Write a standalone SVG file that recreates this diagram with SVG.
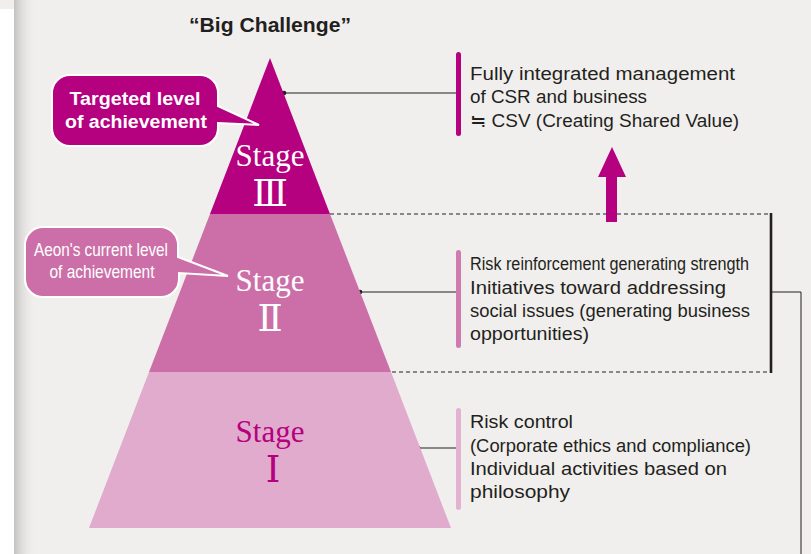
<svg xmlns="http://www.w3.org/2000/svg" width="811" height="554" viewBox="0 0 811 554">
<defs>
<linearGradient id="shadow" x1="0" y1="0" x2="1" y2="0">
<stop offset="0" stop-color="#c4c2c0"/>
<stop offset="1" stop-color="#f1efed" stop-opacity="0"/>
</linearGradient>
<style>
.sans{font-family:"Liberation Sans",Arial,sans-serif;fill:#231f20;}
.txt{font-size:17.5px;}
.cond{font-size:17.5px;}
.serif{font-family:"Liberation Serif","Times New Roman",serif;font-size:31px;text-anchor:middle;}
.num{font-family:"DejaVu Serif","Liberation Serif",serif;font-size:37px;text-anchor:middle;}
.lead{stroke:#231f20;stroke-width:1;fill:none;}
.dash{stroke:#231f20;stroke-width:1;stroke-dasharray:4 3;fill:none;}
.dot{fill:#231f20;}
.callt{font-family:"Liberation Sans",Arial,sans-serif;fill:#fff;text-anchor:middle;}
</style>
</defs>
<rect width="811" height="554" fill="#f1efed"/>
<rect x="14" y="0" width="22" height="554" fill="url(#shadow)"/>
<rect x="0" y="9" width="14" height="545" fill="#ffffff"/>

<text class="sans" x="270" y="32" font-size="21" font-weight="bold" text-anchor="middle" textLength="162" lengthAdjust="spacingAndGlyphs">“Big Challenge”</text>

<g id="connectors">
<line class="lead" x1="284" y1="93" x2="458" y2="93"/>
<circle class="dot" cx="284" cy="93" r="2.3"/>
<line class="lead" x1="360" y1="292" x2="458" y2="292"/>
<circle class="dot" cx="360" cy="292" r="2.3"/>
<line class="lead" x1="418" y1="448" x2="458" y2="448"/>
<circle class="dot" cx="418" cy="448" r="2.3"/>
<line class="dash" x1="330" y1="214" x2="771" y2="214"/>
<line class="dash" x1="392" y1="372" x2="771" y2="372"/>
<line x1="771" y1="213" x2="771" y2="373" stroke="#231f20" stroke-width="2.6"/>
<polyline points="772,292 801,292 801,554" fill="none" stroke="#231f20" stroke-width="1"/>
<line x1="801" y1="296" x2="801" y2="554" stroke="#8a8586" stroke-width="1.2"/>
<polygon points="612,147 626,177 617,177 617,222 606,222 606,177 598,177" fill="#b5007f"/>
</g>

<g id="stage3">
<polygon points="270,58 330,214 210,214" fill="#b5007f"/>
<text class="serif" x="270" y="166" fill="#ffffff">Stage</text>
<text class="num" x="270" y="206" fill="#ffffff">Ⅲ</text>
</g>
<g id="stage2">
<polygon points="210,214 330,214 391,372 149,372" fill="#cc6fa8"/>
<text class="serif" x="270" y="291" fill="#ffffff">Stage</text>
<text class="num" x="270" y="331" fill="#ffffff">Ⅱ</text>
</g>
<g id="stage1">
<polygon points="149,372 391,372 451,528 89,528" fill="#e0abcd"/>
<text class="serif" x="270" y="442" fill="#b5007f">Stage</text>
<text class="num" x="273" y="482" fill="#b5007f">Ⅰ</text>
</g>

<g id="callout-target">
<path d="M70,75 H200 A18,18 0 0 1 218,93 V106 L259,125 L218,123 V128 A18,18 0 0 1 200,146 H70 A18,18 0 0 1 52,128 V93 A18,18 0 0 1 70,75 Z" fill="#b5007f" stroke="#ffffff" stroke-width="2"/>
<text class="callt" x="135" y="105" font-size="18" font-weight="bold" textLength="131" lengthAdjust="spacingAndGlyphs">Targeted level</text>
<text class="callt" x="136" y="128" font-size="18" font-weight="bold" textLength="142" lengthAdjust="spacingAndGlyphs">of achievement</text>
</g>

<g id="callout-current">
<path d="M43,227 H160 A18,18 0 0 1 178,245 V257 L228,276 L179,273 V279 A18,18 0 0 1 161,297 H43 A18,18 0 0 1 25,279 V245 A18,18 0 0 1 43,227 Z" fill="#cc6fa8" stroke="#ffffff" stroke-width="2"/>
<text class="callt" x="101" y="256" font-size="19" textLength="134" lengthAdjust="spacingAndGlyphs">Aeon's current level</text>
<text class="callt" x="102" y="278" font-size="19" textLength="105" lengthAdjust="spacingAndGlyphs">of achievement</text>
</g>

<g id="desc3">
<rect x="456" y="52" width="5" height="84" rx="2.5" fill="#b5007f"/>
<text class="sans txt" x="470" y="80" textLength="265" lengthAdjust="spacingAndGlyphs">Fully integrated management</text>
<text class="sans txt" x="470" y="103" textLength="177" lengthAdjust="spacingAndGlyphs">of CSR and business</text>
<text class="sans txt" x="470" y="127" textLength="269" lengthAdjust="spacingAndGlyphs">≒ CSV (Creating Shared Value)</text>
</g>

<g id="desc2">
<rect x="456" y="250" width="5" height="98" rx="2.5" fill="#d07bb0"/>
<text class="sans cond" x="470" y="270" textLength="279" lengthAdjust="spacingAndGlyphs">Risk reinforcement generating strength</text>
<text class="sans txt" x="470" y="294" textLength="256" lengthAdjust="spacingAndGlyphs">Initiatives toward addressing</text>
<text class="sans txt" x="470" y="317" textLength="280" lengthAdjust="spacingAndGlyphs">social issues (generating business</text>
<text class="sans txt" x="470" y="340" textLength="119" lengthAdjust="spacingAndGlyphs">opportunities)</text>
</g>

<g id="desc1">
<rect x="456" y="408" width="5" height="102" rx="2.5" fill="#e3b2d2"/>
<text class="sans txt" x="470" y="428" textLength="103" lengthAdjust="spacingAndGlyphs">Risk control</text>
<text class="sans txt" x="470" y="452" textLength="281" lengthAdjust="spacingAndGlyphs">(Corporate ethics and compliance)</text>
<text class="sans txt" x="470" y="475" textLength="257" lengthAdjust="spacingAndGlyphs">Individual activities based on</text>
<text class="sans txt" x="470" y="498" textLength="100" lengthAdjust="spacingAndGlyphs">philosophy</text>
</g>
</svg>
